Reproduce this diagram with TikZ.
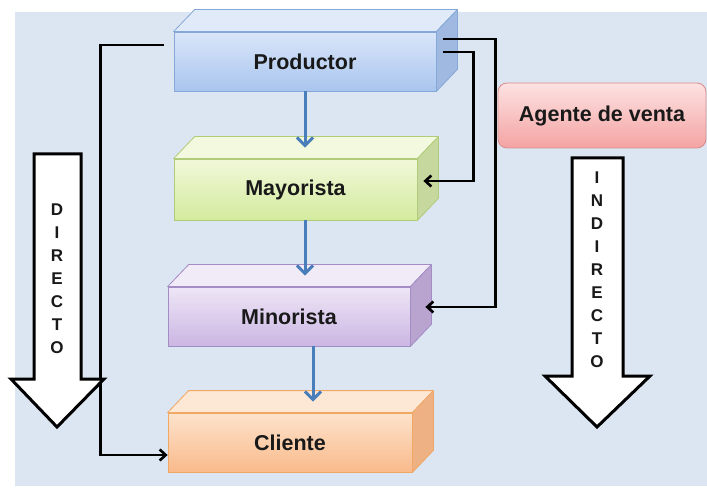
\documentclass[tikz,border=0pt]{standalone}
\usepackage{fontspec}
\setmainfont{Liberation Sans}
\usetikzlibrary{arrows.meta}

% colours: T = top face, S = side face, A/B = front gradient, D = border
\definecolor{fondo}{HTML}{DCE6F2}
\definecolor{azul}{HTML}{4A7EBB}
\definecolor{prodT}{HTML}{E0EAF9}
\definecolor{prodS}{HTML}{9FB9E0}
\definecolor{prodA}{HTML}{DAE6F9}
\definecolor{prodB}{HTML}{A9C5EE}
\definecolor{prodD}{HTML}{86A8D8}
\definecolor{mayoT}{HTML}{F3F9DF}
\definecolor{mayoS}{HTML}{C6D89E}
\definecolor{mayoA}{HTML}{F1F8DA}
\definecolor{mayoB}{HTML}{D4EB9E}
\definecolor{mayoD}{HTML}{B0CC78}
\definecolor{minoT}{HTML}{F1EAF7}
\definecolor{minoS}{HTML}{B8A4CF}
\definecolor{minoA}{HTML}{EEE6F6}
\definecolor{minoB}{HTML}{CBB6E3}
\definecolor{minoD}{HTML}{A48CC5}
\definecolor{clieT}{HTML}{FDE8D6}
\definecolor{clieS}{HTML}{EDB183}
\definecolor{clieA}{HTML}{FDE3CC}
\definecolor{clieB}{HTML}{F9BA8B}
\definecolor{clieD}{HTML}{F2A865}
\definecolor{ageA}{HTML}{FDE2E2}
\definecolor{ageB}{HTML}{F4A3A3}
\definecolor{ageD}{HTML}{D98C8C}

\begin{document}
\begin{tikzpicture}[x=1pt, y=-1pt,
    caja/.style={inner sep=0pt, line width=0.8pt, text=black!90,
        font=\bfseries\fontsize{21.5}{24}\selectfont},
    flecha/.style={azul, line width=3pt, -{Straight Barb[length=8pt,width=16pt]}},
    conector/.style={black, line width=2.6pt, -{Straight Barb[length=6pt,width=11pt]}},
    bloque/.style={draw=black, line width=3pt, fill=white, line join=miter},
    letra/.style={inner sep=0pt, text=black!90, font=\bfseries\fontsize{17}{17}\selectfont}]

        \useasboundingbox (0,0) rectangle (707,489);
        % background panel
        \fill[fondo] (15,12) rectangle (707,486);

        % front faces of the boxes
        \node[caja, draw=prodD, top color=prodA, bottom color=prodB,
            minimum width=262pt, minimum height=59pt] (prod) at (305,61.5) {Productor};
        \node[caja, draw=mayoD, top color=mayoA, bottom color=mayoB,
            minimum width=243pt, minimum height=61pt] (mayo) at (295.5,189.5) {Mayorista};
        \node[caja, draw=minoD, top color=minoA, bottom color=minoB,
            minimum width=242pt, minimum height=59pt] (mino) at (289,316.5) {Minorista};
        \node[caja, draw=clieD, top color=clieA, bottom color=clieB,
            minimum width=244pt, minimum height=59pt] (clie) at (290,442.5) {Cliente};

        % top and side faces
        \foreach \n in {prod,mayo,mino,clie} {
            \draw[draw=\n D, fill=\n T, line width=0.8pt, line join=round]
                (\n.north west) -- ([shift={(21pt,22pt)}]\n.north west)
                -- ([shift={(21pt,22pt)}]\n.north east) -- (\n.north east) -- cycle;
            \draw[draw=\n D, fill=\n S, line width=0.8pt, line join=round]
                (\n.north east) -- ([shift={(21pt,22pt)}]\n.north east)
                -- ([shift={(21pt,22pt)}]\n.south east) -- (\n.south east) -- cycle;
            \coordinate (\n-arriba) at ([shift={(10.5pt,11pt)}]\n.north);
        }

        \node[caja, draw=ageD, top color=ageA, bottom color=ageB, rounded corners=9pt,
            minimum width=208pt, minimum height=65pt] (agente) at (602,115.5) {Agente de venta};

        % blue arrows down the chain
        \draw[flecha] (prod.south) -- (prod.south |- mayo-arriba);
        \draw[flecha] (mayo.south -| prod.south) -- (prod.south |- mino-arriba);
        \coordinate (mino-abajo) at ([xshift=24pt]mino.south);
        \draw[flecha] (mino-abajo) -- (mino-abajo |- clie-arriba);

        % direct channel
        \draw[conector] ([shift={(-10pt,16.5pt)}]prod.west) -- ++(-63,0) |- ([yshift=-12.5pt]clie.west);
        % indirect channels
        \draw[conector] ([shift={(7pt,22.5pt)}]prod.east) -- ++(52,0) |- ([shift={(15pt,9.5pt)}]mino.east);
        \draw[conector] ([shift={(7pt,9.5pt)}]prod.east) -- ++(30,0) |- ([shift={(6pt,8.5pt)}]mayo.east);

        % big arrows
        \draw[bloque] (34,154) -- (81,154) -- (81,379) -- (104,379) -- (57,427)
            -- (11,379) -- (34,379) -- cycle;
        \foreach \l [count=\i] in {D,I,R,E,C,T,O}
            \node[letra] (dir-\i) at (57,187+23*\i) {\l};

        \draw[bloque] (572,158) -- (623,158) -- (623,376) -- (650,376) -- (597,427)
            -- (545,376) -- (572,376) -- cycle;
        \foreach \l [count=\i] in {I,N,D,I,R,E,C,T,O}
            \node[letra] (ind-\i) at (597,155+23*\i) {\l};
\end{tikzpicture}
\end{document}
